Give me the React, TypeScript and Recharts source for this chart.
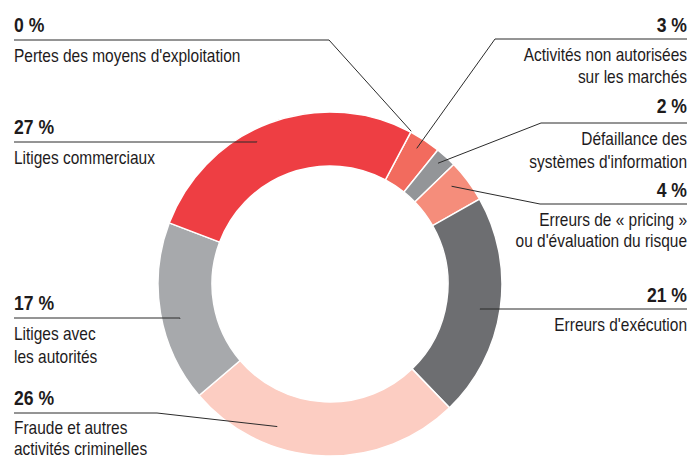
import React from "react";
import { PieChart, Pie, Cell } from "recharts";

// Répartition des pertes opérationnelles par catégorie (en %)
const shares = [0, 3, 2, 4, 21, 26, 17, 27];

const categories = [
  ["Pertes des moyens d'exploitation"],
  ["Activités non autorisées", "sur les marchés"],
  ["Défaillance des", "systèmes d'information"],
  ["Erreurs de « pricing »", "ou d'évaluation du risque"],
  ["Erreurs d'exécution"],
  ["Fraude et autres", "activités criminelles"],
  ["Litiges avec", "les autorités"],
  ["Litiges commerciaux"],
];

const colors = ["#f26b5e", "#f26b5e", "#939598", "#f58d7b", "#6d6e71", "#fccdc2", "#a7a9ac", "#ee3e43"];

const data = shares.map((v, i) => ({ name: categories[i].join(" "), value: v }));

// placement des étiquettes (côté, ligne de base du %, filet, coude, rayon du point d'ancrage, décalage angulaire)
const labelLayout = [
  { side: "left", base: 32, rule: 40, elbow: 329, r: 173, shift: 0, first: 22, gap: 22 },
  { side: "right", base: 32, rule: 39, elbow: 495, r: 161, shift: -0.8, first: 22, gap: 22 },
  { side: "right", base: 113, rule: 123, elbow: 541, r: 162, shift: -0.6, first: 22, gap: 23 },
  { side: "right", base: 197, rule: 204, elbow: 540, r: 156, shift: -2, first: 22, gap: 21 },
  { side: "right", base: 302, rule: 309, elbow: null, r: 152, shift: 1.3, first: 22, gap: 22 },
  { side: "left", base: 405, rule: 413, elbow: 157, r: 152, shift: 17.5, first: 21, gap: 21 },
  { side: "left", base: 310, rule: 318, elbow: null, r: 154, shift: -3.2, first: 22, gap: 23 },
  { side: "left", base: 134, rule: 142, elbow: null, r: 160, shift: -6.6, first: 22, gap: 22 },
];

const FONT = "'Liberation Sans', Arial, sans-serif";
const INK = "#1e1b1c";
const LEFT_X = 14;
const RIGHT_X = 687;

const renderLabel = (props: any) => {
  const { cx, cy, midAngle, index } = props;
  const lay = labelLayout[index];
  const theta = ((90 - midAngle + lay.shift) * Math.PI) / 180;
  const ax = cx + lay.r * Math.sin(theta);
  const ay = cy - lay.r * Math.cos(theta);
  const left = lay.side === "left";
  const edge = left ? LEFT_X : RIGHT_X;
  const anchor = left ? "start" : "end";
  const elbowX = lay.elbow == null ? ax : lay.elbow;
  const pts = `${edge},${lay.rule} ${elbowX},${lay.rule} ${ax},${ay}`;
  return (
    <g key={`lbl-${index}`}>
      <polyline points={pts} fill="none" stroke="#2b2b2b" strokeWidth={1} />
      <text
        transform={`translate(${edge},${lay.base}) scale(0.88,1)`}
        x={0}
        y={0}
        textAnchor={anchor}
        fontFamily={FONT}
        fontWeight="bold"
        fontSize={20}
        fill={INK}
      >
        {shares[index]} %
      </text>
      {categories[index].map((line, j) => (
        <text
          key={j}
          transform={`translate(${edge},${lay.rule + lay.first + j * lay.gap}) scale(0.86,1)`}
          x={0}
          y={0}
          textAnchor={anchor}
          fontFamily={FONT}
          fontSize={18}
          fill={INK}
        >
          {line}
        </text>
      ))}
    </g>
  );
};

export default function App() {
  return (
    <div style={{ position: "absolute", left: 0, top: 0, width: 690, height: 461, background: "#fff" }}>
      <PieChart width={690} height={461} margin={{ top: 0, right: 0, bottom: 0, left: 0 }}>
        <Pie
          data={data}
          dataKey="value"
          nameKey="name"
          cx={330}
          cy={284}
          innerRadius={118}
          outerRadius={172}
          startAngle={62}
          endAngle={-298}
          stroke="#ffffff"
          strokeWidth={1.5}
          label={renderLabel}
          labelLine={false}
          isAnimationActive={false}
        >
          {data.map((entry, index) => (
            <Cell key={`cell-${index}`} fill={colors[index]} />
          ))}
        </Pie>
      </PieChart>
    </div>
  );
}
